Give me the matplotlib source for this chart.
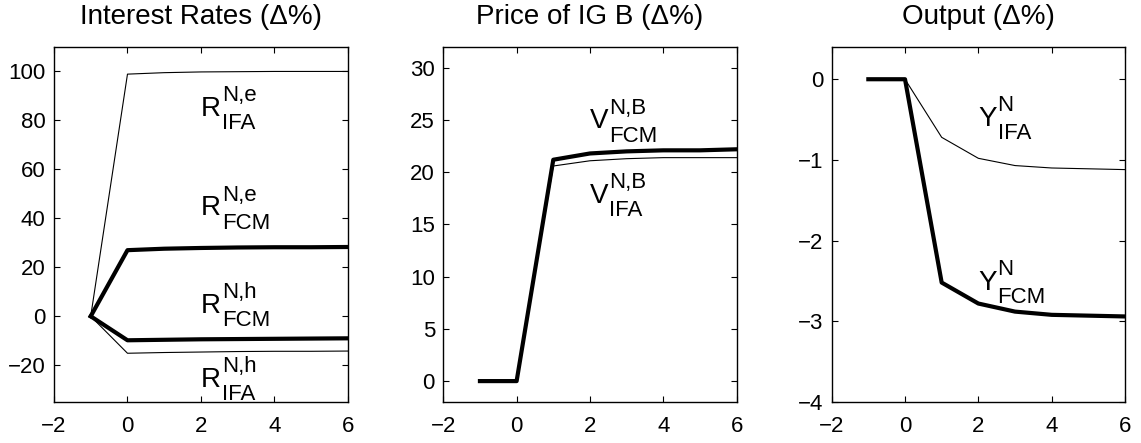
import matplotlib
matplotlib.use("Agg")
import matplotlib.pyplot as plt

plt.rcParams['font.family'] = ['Liberation Sans', 'DejaVu Sans']

# horizons
periods = [-1, 0, 1, 2, 3, 4, 5, 6]

# interest rates (% change)
r_e_ifa = [0, 98.9, 99.5, 99.8, 99.9, 100.0, 100.0, 100.0]
r_e_fcm = [0, 27.0, 27.6, 27.9, 28.1, 28.2, 28.2, 28.3]
r_h_fcm = [0, -9.8, -9.6, -9.4, -9.3, -9.2, -9.1, -9.0]
r_h_ifa = [0, -15.1, -14.8, -14.6, -14.4, -14.3, -14.3, -14.2]

# price of IG bond (% change)
v_ifa = [0, 0, 20.6, 21.1, 21.3, 21.4, 21.4, 21.4]
v_fcm = [0, 0, 21.2, 21.8, 22.0, 22.1, 22.1, 22.2]

# output (% change)
y_ifa = [0, 0, -0.72, -0.98, -1.07, -1.10, -1.11, -1.12]
y_fcm = [0, 0, -2.52, -2.78, -2.88, -2.92, -2.93, -2.94]

titles = ["Interest Rates (\u0394%)", "Price of IG B (\u0394%)", "Output (\u0394%)"]
xticks = [-2, 0, 2, 4, 6]

THIN = 0.8
THICK = 3.0


def label(ax, x, y, main, sup, sub):
    # main letter with stacked super/subscript, MATLAB style
    t = ax.text(x, y, main, fontsize=20, ha='left', va='baseline')
    ax.annotate(sup, xy=(1, 0), xycoords=t, xytext=(0.5, 15), textcoords='offset points',
                fontsize=16, ha='left', va='baseline')
    ax.annotate(sub, xy=(1, 0), xycoords=t, xytext=(0.5, -5.2), textcoords='offset points',
                fontsize=16, ha='left', va='baseline')


fig = plt.figure(figsize=(11.41, 4.43), dpi=100)
axes = [fig.add_axes([0.0473, 0.0926, 0.2577, 0.8014]),
        fig.add_axes([0.3885, 0.0926, 0.2571, 0.8014]),
        fig.add_axes([0.7289, 0.0926, 0.2571, 0.8014])]

ax = axes[0]
ax.plot(periods, r_e_ifa, color='k', lw=THIN)
ax.plot(periods, r_h_ifa, color='k', lw=THIN)
ax.plot(periods, r_e_fcm, color='k', lw=THICK)
ax.plot(periods, r_h_fcm, color='k', lw=THICK)
ax.set_ylim(-35, 110)
ax.set_yticks([-20, 0, 20, 40, 60, 80, 100])
label(ax, 2, 81.9, "R", "N,e", "IFA")
label(ax, 2, 41.2, "R", "N,e", "FCM")
label(ax, 2, 1.3, "R", "N,h", "FCM")
label(ax, 2, -28.8, "R", "N,h", "IFA")

ax = axes[1]
ax.plot(periods, v_ifa, color='k', lw=THIN)
ax.plot(periods, v_fcm, color='k', lw=THICK)
ax.set_ylim(-2, 32)
ax.set_yticks([0, 5, 10, 15, 20, 25, 30])
label(ax, 2, 24.2, "V", "N,B", "FCM")
label(ax, 2, 17.1, "V", "N,B", "IFA")

ax = axes[2]
ax.plot(periods, y_ifa, color='k', lw=THIN)
ax.plot(periods, y_fcm, color='k', lw=THICK)
ax.set_ylim(-4, 0.4)
ax.set_yticks([-4, -3, -2, -1, 0])
label(ax, 2, -0.58, "Y", "N", "IFA")
label(ax, 2, -2.61, "Y", "N", "FCM")

for ax, title in zip(axes, titles):
    ax.set_xlim(-2, 6)
    ax.set_xticks(xticks)
    ax.set_title(title, fontsize=20, pad=16.5)
    ax.tick_params(direction='in', top=True, right=True, length=4, width=0.8,
                   labelsize=16)
    ax.tick_params(axis='x', pad=10)
    ax.tick_params(axis='y', pad=6)
    for s in ax.spines.values():
        s.set_linewidth(1.0)

fig.savefig("out.png", dpi=100)
